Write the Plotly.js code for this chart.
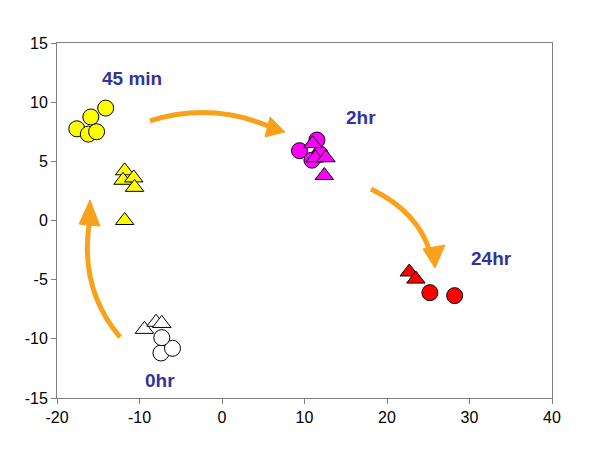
<!DOCTYPE html>
<html><head><meta charset="utf-8">
<script src="https://cdn.plot.ly/plotly-3.0.1.min.js"></script>
<style>body{margin:0;background:#fff}#chart{width:600px;height:450px}</style>
</head><body><div id="chart"></div>
<script>
// 0 hr
const hr0CircX = [-7.4, -6.0, -7.3];
const hr0CircY = [-11.2, -10.8, -9.9];
const hr0TriX = [-9.4, -8.0, -7.3];
const hr0TriY = [-9.2, -8.6, -8.7];
// 45 min
const m45CircX = [-14.1, -15.9, -17.6, -16.2, -15.2];
const m45CircY = [9.5, 8.75, 7.75, 7.3, 7.5];
const m45TriX = [-11.8, -12.0, -10.7, -10.6, -11.8];
const m45TriY = [4.2, 3.4, 3.6, 2.8, 0.0];
// 2 hr
const h2CircX = [9.4, 11.5, 10.9, 11.9];
const h2CircY = [5.9, 6.8, 5.1, 5.6];
const h2TriX = [11.0, 11.3, 12.6, 12.4];
const h2TriY = [6.5, 5.3, 5.3, 3.8];
// 24 hr
const h24CircX = [25.2, 28.2];
const h24CircY = [-6.1, -6.35];
const h24TriX = [22.7, 23.5];
const h24TriY = [-4.35, -4.95];

const labels = ["0hr", "45 min", "2hr", "24hr"];
const labelX = [-7.5, -10.9, 16.9, 32.7];
const labelY = [-13.5, 12.0, 8.7, -3.2];

const xTicks = [-20, -10, 0, 10, 20, 30, 40];
const yTicks = [-15, -10, -5, 0, 5, 10, 15];

function tr(x, y, fill, sym, sz) {
  return {x: x, y: y, type: 'scatter', mode: 'markers', hoverinfo: 'skip',
    marker: {symbol: sym, size: sz, color: fill, line: {color: '#000', width: 1}}};
}
const data = [
  tr(hr0CircX, hr0CircY, '#ffffff', 'circle', 16),
  tr(hr0TriX, hr0TriY, '#ffffff', 'triangle-up', 16),
  tr(m45CircX, m45CircY, '#ffff00', 'circle', 16),
  tr(m45TriX, m45TriY, '#ffff00', 'triangle-up', 16),
  tr(h2CircX, h2CircY, '#ff00ff', 'circle', 16),
  tr(h2TriX, h2TriY, '#ff00ff', 'triangle-up', 16),
  tr(h24CircX, h24CircY, '#ff0000', 'circle', 16),
  tr(h24TriX, h24TriY, '#ff0000', 'triangle-up', 16)
];

const orange = '#F9A11B';
function curve(s, c, e) {
  return {type: 'path', xref: 'x', yref: 'y', line: {color: orange, width: 5},
    path: `M ${s[0]},${s[1]} Q ${c[0]},${c[1]} ${e[0]},${e[1]}`};
}
function head(t, a, b) {
  return {type: 'path', xref: 'x', yref: 'y', line: {color: orange, width: 1}, fillcolor: orange,
    path: `M ${t[0]},${t[1]} L ${a[0]},${a[1]} L ${b[0]},${b[1]} Z`};
}
const shapes = [
  curve([-12.36, -9.85], [-17.21, -5.87], [-16.12, -0.38]),
  head([-16.0, 1.73], [-17.33, -0.30], [-14.79, -0.47]),
  curve([-8.73, 8.41], [-1.45, 10.01], [5.58, 7.99]),
  head([7.64, 7.48], [5.82, 8.75], [5.21, 7.06]),
  curve([18.06, 2.66], [23.76, 0.72], [25.21, -2.66]),
  head([25.82, -4.01], [24.36, -2.41], [27.03, -2.07])
];

const annotations = labels.map((t, i) => ({x: labelX[i], y: labelY[i], xref: 'x', yref: 'y',
  text: '<b>' + t + '</b>', showarrow: false,
  font: {family: 'Liberation Sans, Arial, sans-serif', size: 19, color: '#333399'}}));

const axisCommon = {showgrid: false, zeroline: false, showline: true, linecolor: '#808080', linewidth: 1,
  mirror: true, ticks: 'outside', ticklen: 5, tickcolor: '#808080',
  tickfont: {family: 'Liberation Sans, Arial, sans-serif', size: 16, color: '#000'}};

const layout = {
  width: 600, height: 450, showlegend: false,
  margin: {l: 57, r: 48, t: 43, b: 52},
  paper_bgcolor: '#fff', plot_bgcolor: '#fff',
  xaxis: Object.assign({range: [-20, 40], tickvals: xTicks, ticktext: xTicks.map(String)}, axisCommon),
  yaxis: Object.assign({range: [-15, 15], tickvals: yTicks, ticktext: yTicks.map(String)}, axisCommon),
  shapes: shapes, annotations: annotations
};
Plotly.newPlot('chart', data, layout, {staticPlot: true});
</script></body></html>
